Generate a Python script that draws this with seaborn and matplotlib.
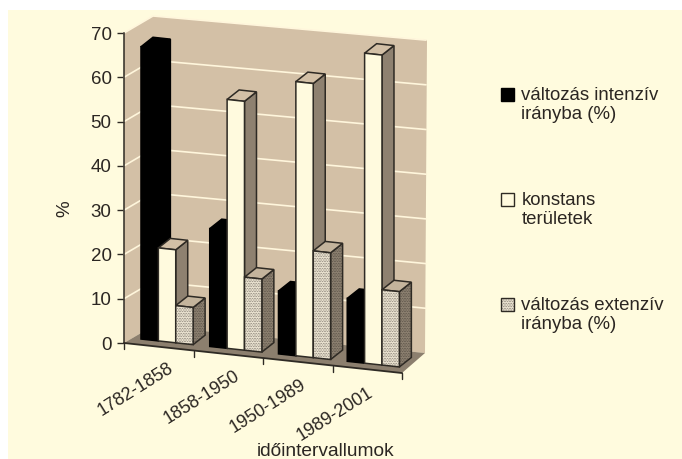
import matplotlib
matplotlib.use("Agg")
import matplotlib.pyplot as plt
from matplotlib.patches import Polygon, Rectangle
from matplotlib.transforms import Affine2D
import seaborn as sns
import pandas as pd

# ---- data ----
periods = ["1782-1858", "1858-1950", "1950-1989", "1989-2001"]
series_names = ["változás intenzív\nirányba (%)", "konstans\nterületek", "változás extenzív\nirányba (%)"]
intensive = [66, 26.6, 14.2, 14.2]
constant = [21, 56.2, 61.9, 70]
extensive = [8.4, 16.5, 24.1, 17]
yticks = [0, 10, 20, 30, 40, 50, 60, 70]

# ---- styling ----
W, H = 682, 459
BG = "#FFFBDE"; WALL = "#D3C0A6"; FLOOR = "#8C7F6E"; GRID = "#FFF6DC"
TXT = "#2b2622"; LINE = "#2e2a24"
FRONT = ["#000000", "#FFFADE", "#E6DECC"]
SIDE = ["#000000", "#8E8170", "#8A7E6E"]
TOP = ["#000000", "#D3C0A6", "#C4B49C"]
HATCH = ".........."

sns.set_theme(style="white")
plt.rcParams["font.family"] = ["Liberation Sans", "DejaVu Sans"]
plt.rcParams["hatch.linewidth"] = 0.2

fig = plt.figure(figsize=(W / 100, H / 100), dpi=100, facecolor="white")
pix = Affine2D().scale(1, -1).translate(0, H)   # image pixels, y down
fig.patches.append(Rectangle((8, 10), W - 8, H - 10, transform=pix, fc=BG, ec="none", zorder=-5))

X0, Y0, X1, Y70 = 124, 343, 402, 33
ax = fig.add_axes([X0 / W, (H - Y0) / H, (X1 - X0) / W, (Y0 - Y70) / H])
ax.patch.set_alpha(0)

df = pd.DataFrame({
    "period": periods * 3,
    "series": [s for s in series_names for _ in periods],
    "value": intensive + constant + extensive,
})
sns.barplot(data=df, x="period", y="value", hue="series", order=periods, hue_order=series_names,
            palette=FRONT, saturation=1, width=0.75, gap=0, legend=False, ax=ax)
ax.set_xlim(-0.5, 3.5)
ax.set_ylim(0, 70)
px_x, px_v = (X1 - X0) / 4, (Y0 - Y70) / 70

# sheared data transform: the floor falls towards the right
S = 0.108
shear = ax.transData + Affine2D().translate(-X0, 0) + Affine2D.from_values(1, -S, 0, 1, 0, 0) + Affine2D().translate(X0, 0)

# walls and floor (layout in image pixels)
def wall(pts, **kw):
    ax.add_patch(Polygon(pts, closed=True, transform=pix, clip_on=False, **kw))

wall([(124, 343), (153, 326), (153, 16), (124, 33)], fc=WALL, ec="none", zorder=0.5)
wall([(153, 16), (427, 40), (425, 353), (153, 326)], fc=WALL, ec="none", zorder=0.5)
wall([(124, 343), (402, 373), (425, 353), (153, 326)], fc=FLOOR, ec="none", zorder=0.6)
for v in yticks[1:]:
    ax.plot([124, 153, 426], [343 - px_v * v, 326 - px_v * v, 353 - 4.47 * v], transform=pix,
            color=GRID, lw=1.2, clip_on=False, zorder=0.7, solid_joinstyle="miter")

# boxes: every visible face comes from the bar rectangles
OFF_X, OFF_V = 8.3 / px_x, (4.9 + 8.3 * S) / px_v
DEP_X, DEP_V = 12 / px_x, (9.5 + 12 * S) / px_v
GROUP_SHRINK = 0.75 / px_x   # bars of later groups sit slightly left (perspective)
bars = []
for k, cont in enumerate(ax.containers):
    for j, bar in enumerate(cont):
        bars.append((j, k, bar))
bars.sort(key=lambda t: (t[0], t[1]))
z = 2
for j, k, bar in bars:
    x0 = bar.get_x() + OFF_X - j * GROUP_SHRINK
    x1 = x0 + bar.get_width()
    h = bar.get_height()
    y0, y1 = OFF_V, OFF_V + h
    ec = "#000000" if k == 0 else LINE
    hatch = HATCH if k == 2 else None
    side = Polygon([(x1, y0), (x1 + DEP_X, y0 + DEP_V), (x1 + DEP_X, y1 + DEP_V), (x1, y1)],
                   fc=SIDE[k], ec=ec, lw=1.1, hatch=hatch, transform=shear, clip_on=False, zorder=z)
    top = Polygon([(x0, y1), (x0 + DEP_X, y1 + DEP_V), (x1 + DEP_X, y1 + DEP_V), (x1, y1)],
                  fc=TOP[k], ec=ec, lw=1.1, transform=shear, clip_on=False, zorder=z + 0.1)
    ax.add_patch(side)
    ax.add_patch(top)
    bar.set_x(x0)
    bar.set_y(y0)
    bar.set_transform(shear)
    bar.set_clip_on(False)
    bar.set_zorder(z + 0.2)
    bar.set_edgecolor(ec)
    bar.set_linewidth(1.1)
    if hatch:
        bar.set_hatch(hatch)
    z += 1

# category axis: sheared line with ticks at the category borders
ax.plot([-0.5, 3.5], [0, 0], transform=shear, color=LINE, lw=1.3, clip_on=False, zorder=1)
for i in range(5):
    ax.plot([i - 0.5, i - 0.5], [0, -6 / px_v], transform=shear, color=LINE, lw=1.0, clip_on=False, zorder=1)

for s in ["top", "right", "bottom"]:
    ax.spines[s].set_visible(False)
ax.spines["left"].set_color(LINE)
ax.spines["left"].set_linewidth(1.1)
ax.spines["left"].set_zorder(1.5)
ax.set_yticks(yticks)
ax.set_xticks(range(4))
ax.set_xticklabels(periods)
ax.tick_params(axis="y", length=5, width=1, color=LINE, labelcolor=TXT, labelsize=13.5, pad=4, left=True)
ax.tick_params(axis="x", length=0, labelcolor=TXT, labelsize=13, pad=0, bottom=False)
for i, lab in enumerate(ax.get_xticklabels()):
    lab.set_rotation(32)
    lab.set_rotation_mode("anchor")
    lab.set_ha("right")
    lab.set_va("center")
    lab.set_transform(lab.get_transform() + Affine2D().translate(13 - 3 * i, -24 - 8 * i))
ax.set_xlabel("")
ax.set_ylabel("")
fig.text(65 / W, 1 - 209 / H, "%", rotation=90, ha="center", va="center", fontsize=13.5, color=TXT)
fig.text(326 / W, 1 - 451 / H, "időintervallumok", ha="center", va="center", fontsize=13.8, color=TXT)

# legend
handles = [Rectangle((0, 0), 1, 1, fc=FRONT[k], ec="#000000" if k == 0 else LINE, lw=1.0,
                     hatch=HATCH if k == 2 else None) for k in range(3)]
leg = fig.legend(handles, series_names, loc="upper left", bbox_to_anchor=(501 / W, 1 - 87 / H),
                 frameon=False, fontsize=13.4, labelcolor=TXT, handlelength=0.72, handleheight=0.72,
                 handletextpad=0.38, labelspacing=3.69, borderpad=0, borderaxespad=0)
for t in leg.get_texts():
    t.set_linespacing(1.17)
for h in leg.legend_handles:
    h.set_y(h.get_y() + 7.5)

fig.savefig("out.png", dpi=100, facecolor=fig.get_facecolor())
